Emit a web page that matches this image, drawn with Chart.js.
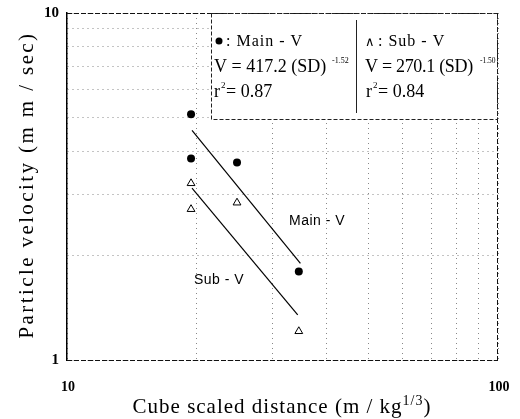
<!DOCTYPE html>
<html>
<head>
<meta charset="utf-8">
<script src="https://cdn.jsdelivr.net/npm/chart.js@4.4.0/dist/chart.umd.min.js"></script>
<style>
  html, body { margin: 0; padding: 0; background: #fff; }
  #wrap { width: 520px; height: 419px; }
</style>
</head>
<body>
<div id="wrap"><canvas id="scatter_chart"></canvas></div>
<script>
// scaled distance (m/kg^1/3) and particle velocity (mm/sec)
var mainX = [19.4, 19.4, 24.8, 34.5];
var mainY = [5.11, 3.81, 3.71, 1.80];
var subX = [19.4, 19.4, 24.8, 34.5];
var subY = [3.23, 2.72, 2.84, 1.21];

// end points of the fitted lines
var mainFitX = [19.5, 34.8];
var mainFitY = [4.59, 1.90];
var subFitX = [19.5, 34.3];
var subFitY = [3.13, 1.35];

// grid positions and the labelled ones
var xGrid = [10, 20, 30, 40, 50, 60, 70, 80, 90, 100];
var yGrid = [1, 2, 3, 4, 5, 6, 7, 8, 9, 10];
var xTicks = [10, 100];
var yTicks = [1, 10];

function toPoints(xs, ys) {
    return xs.map(function (x, i) { return { x: x, y: ys[i] }; });
}

var labelsPlugin = {
    id: 'labels',
    afterDraw: function (chart) {
        var ctx = chart.ctx;
        var area = chart.chartArea;
        var xs = chart.scales.x, ys = chart.scales.y;
        ctx.save();

        // dashed frame (bottom, top, right)
        ctx.strokeStyle = '#111';
        ctx.lineWidth = 1;
        ctx.setLineDash([5, 2]);
        ctx.beginPath();
        ctx.moveTo(area.left, area.bottom + 0.5);
        ctx.lineTo(area.right, area.bottom + 0.5);
        ctx.moveTo(area.left, area.top + 0.5);
        ctx.lineTo(area.right, area.top + 0.5);
        ctx.moveTo(area.right - 0.5, area.top);
        ctx.lineTo(area.right - 0.5, area.bottom);
        ctx.stroke();

        // tick labels
        ctx.fillStyle = '#000';
        ctx.font = 'bold 15px "Liberation Serif"';
        ctx.textAlign = 'right';
        ctx.textBaseline = 'middle';
        yTicks.forEach(function (v) { ctx.fillText(String(v), area.left - 8, ys.getPixelForValue(v)); });
        ctx.font = 'bold 14px "Liberation Serif"';
        ctx.textAlign = 'center';
        ctx.textBaseline = 'top';
        xTicks.forEach(function (v) { ctx.fillText(String(v), xs.getPixelForValue(v) + 1, area.bottom + 20); });

        // equation box
        var bx = 211, by = area.top, bw = 497 - 211, bh = 119 - area.top;
        ctx.fillStyle = '#fff';
        ctx.fillRect(bx, by + 1, bw, bh - 1);
        ctx.strokeStyle = '#222';
        ctx.setLineDash([4, 2]);
        ctx.strokeRect(bx + 0.5, by + 0.5, bw, bh);
        ctx.setLineDash([]);
        ctx.beginPath();
        ctx.moveTo(356.5, 20);
        ctx.lineTo(356.5, 113);
        ctx.stroke();

        ctx.fillStyle = '#000';
        ctx.textBaseline = 'alphabetic';
        ctx.textAlign = 'left';

        // left column
        ctx.beginPath();
        ctx.arc(219, 41, 3.5, 0, Math.PI * 2);
        ctx.fill();
        ctx.font = '16px "Liberation Serif"';
        ctx.letterSpacing = '1px';
        ctx.fillText(': Main - V', 226, 46);
        ctx.letterSpacing = '0px';
        ctx.font = '18px "Liberation Serif"';
        ctx.fillText('V = 417.2 (SD)', 214, 72);
        ctx.font = '8px "Liberation Serif"';
        ctx.fillText('-1.52', 332, 63);
        ctx.font = '18px "Liberation Serif"';
        ctx.fillText('r', 214, 97);
        ctx.font = '9px "Liberation Serif"';
        ctx.fillText('2', 221, 88);
        ctx.font = '18px "Liberation Serif"';
        ctx.fillText('= 0.87', 226, 97);

        // right column
        ctx.font = '13px "Liberation Serif"';
        ctx.fillText('\u2227', 365, 46);
        ctx.font = '16px "Liberation Serif"';
        ctx.letterSpacing = '1px';
        ctx.fillText(': Sub - V', 378, 46);
        ctx.letterSpacing = '0px';
        ctx.font = '18px "Liberation Serif"';
        ctx.letterSpacing = '-0.3px';
        ctx.fillText('V = 270.1 (SD)', 365, 72);
        ctx.letterSpacing = '0px';
        ctx.font = '7.5px "Liberation Serif"';
        ctx.fillText('-1.50', 480, 63);
        ctx.font = '18px "Liberation Serif"';
        ctx.fillText('r', 366, 97);
        ctx.font = '9px "Liberation Serif"';
        ctx.fillText('2', 373, 88);
        ctx.font = '18px "Liberation Serif"';
        ctx.fillText('= 0.84', 378, 97);

        // line labels
        ctx.font = '14px "Liberation Sans"';
        ctx.letterSpacing = '0.5px';
        ctx.fillText('Main - V', 289, 225);
        ctx.fillText('Sub - V', 194, 284);

        // axis titles
        ctx.font = '21px "Liberation Serif"';
        ctx.letterSpacing = '1px';
        var xt = 'Cube scaled distance (m / kg';
        var w1 = ctx.measureText(xt).width;
        ctx.font = '14px "Liberation Serif"';
        var w2 = ctx.measureText('1/3').width;
        ctx.font = '21px "Liberation Serif"';
        var w3 = ctx.measureText(')').width;
        var sx = 282 - (w1 + w2 + w3) / 2;
        ctx.fillText(xt, sx, 413);
        ctx.font = '14px "Liberation Serif"';
        ctx.fillText('1/3', sx + w1, 405);
        ctx.font = '21px "Liberation Serif"';
        ctx.fillText(')', sx + w1 + w2, 413);

        ctx.translate(33, 185);
        ctx.rotate(-Math.PI / 2);
        ctx.textAlign = 'center';
        ctx.letterSpacing = '2.4px';
        ctx.fillText('Particle velocity (m m / sec)', 0, 0);
        ctx.restore();
    }
};

new Chart(document.getElementById('scatter_chart').getContext('2d'), {
    type: 'scatter',
    data: {
        datasets: [{
            label: 'Main - V',
            data: toPoints(mainX, mainY),
            pointStyle: 'circle',
            pointRadius: 4,
            backgroundColor: '#000',
            borderColor: '#000',
            borderWidth: 0
        }, {
            label: 'Sub - V',
            data: toPoints(subX, subY),
            pointStyle: 'triangle',
            pointRadius: 4.5,
            backgroundColor: '#fff',
            borderColor: '#000',
            borderWidth: 1
        }, {
            label: 'Main fit',
            data: toPoints(mainFitX, mainFitY),
            showLine: true,
            pointRadius: 0,
            borderColor: '#000',
            borderWidth: 1.2
        }, {
            label: 'Sub fit',
            data: toPoints(subFitX, subFitY),
            showLine: true,
            pointRadius: 0,
            borderColor: '#000',
            borderWidth: 1.2
        }]
    },
    options: {
        responsive: true,
        maintainAspectRatio: false,
        animation: false,
        layout: { padding: { left: 0, top: 13, right: 22, bottom: 0 } },
        plugins: {
            legend: { display: false },
            tooltip: { enabled: false }
        },
        scales: {
            x: {
                type: 'logarithmic',
                min: 10,
                max: 100,
                afterFit: function (scale) { scale.height = 59; },
                afterBuildTicks: function (scale) {
                    scale.ticks = xGrid.map(function (v) { return { value: v }; });
                },
                grid: { color: '#888', drawTicks: false },
                border: { display: false, dash: [1, 4] },
                ticks: { display: false }
            },
            y: {
                type: 'logarithmic',
                min: 1,
                max: 10,
                afterFit: function (scale) { scale.width = 67; },
                afterBuildTicks: function (scale) {
                    scale.ticks = yGrid.map(function (v) { return { value: v }; });
                },
                grid: { color: '#888', drawTicks: false },
                border: { display: true, color: '#000', width: 1.5, dash: [1, 4] },
                ticks: { display: false }
            }
        }
    },
    plugins: [labelsPlugin]
});
</script>
</body>
</html>
